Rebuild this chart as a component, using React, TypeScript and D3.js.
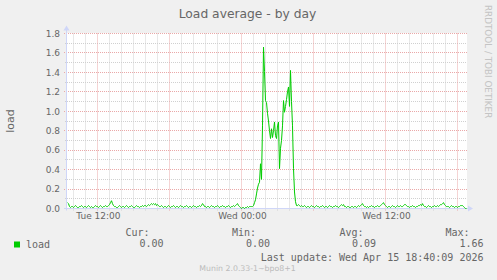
import React from "react";
import * as d3 from "d3";

// ---- data (5-minute samples, one per pixel) ----
const startTime = new Date(2026, 3, 14, 9, 28, 0); // Tue Apr 14 09:28
const stepMinutes = 5;
const loadValues: number[] = [
  0.06,0.05,0.02,0.01,0.02,0.02,0.01,0.02,0.03,0.02,0.01,0.01,0.02,0.02,0.03,0.02,0.01,0.02,0.02,0.01,
  0.02,0.03,0.02,0.01,0.02,0.01,0.01,0.02,0.03,0.02,0.02,0.01,0.02,0.03,0.02,0.01,0.02,0.02,0.03,0.02,
  0.02,0.03,0.04,0.06,0.08,0.05,0.03,0.02,0.02,0.01,0.01,0.02,0.03,0.02,0.01,0.02,0.02,0.01,0.02,0.03,
  0.02,0.01,0.02,0.02,0.03,0.02,0.01,0.01,0.02,0.03,0.02,0.02,0.01,0.02,0.02,0.03,0.02,0.03,0.03,0.02,
  0.03,0.04,0.03,0.04,0.05,0.04,0.05,0.04,0.05,0.03,0.04,0.03,0.02,0.02,0.03,0.02,0.01,0.02,0.02,0.01,
  0.02,0.03,0.02,0.01,0.02,0.02,0.03,0.02,0.01,0.02,0.02,0.01,0.02,0.03,0.02,0.02,0.01,0.02,0.02,0.03,
  0.02,0.01,0.02,0.02,0.01,0.02,0.03,0.02,0.02,0.01,0.02,0.02,0.03,0.02,0.03,0.05,0.04,0.02,0.02,0.01,
  0.02,0.02,0.01,0.02,0.03,0.02,0.02,0.01,0.02,0.02,0.03,0.02,0.01,0.02,0.02,0.03,0.02,0.02,0.01,0.02,
  0.02,0.03,0.02,0.01,0.02,0.02,0.03,0.02,0.03,0.04,0.05,0.03,0.02,0.01,0.00,0.01,0.01,0.00,0.01,0.01,
  0.02,0.01,0.02,0.02,0.02,0.02,0.03,0.06,0.09,0.15,0.21,0.25,0.27,0.46,0.30,0.85,1.66,1.41,1.11,1.09,
  0.98,0.90,0.80,0.72,0.82,0.73,0.80,0.89,0.75,0.72,0.85,0.89,0.41,0.62,0.70,0.85,1.11,0.99,1.05,1.12,
  1.20,1.25,1.05,1.42,1.10,0.85,0.41,0.17,0.07,0.03,0.03,0.04,0.03,0.02,0.03,0.02,0.02,0.03,0.02,0.01,
  0.02,0.02,0.01,0.02,0.03,0.02,0.02,0.01,0.02,0.03,0.02,0.02,0.01,0.02,0.02,0.03,0.02,0.01,0.02,0.02,
  0.01,0.02,0.03,0.02,0.02,0.01,0.02,0.02,0.03,0.02,0.02,0.01,0.02,0.03,0.04,0.03,0.04,0.02,0.02,0.01,
  0.02,0.02,0.01,0.01,0.02,0.02,0.01,0.02,0.02,0.01,0.02,0.03,0.02,0.03,0.04,0.05,0.03,0.02,0.02,0.01,
  0.02,0.01,0.02,0.02,0.03,0.02,0.02,0.01,0.02,0.02,0.03,0.02,0.02,0.03,0.04,0.05,0.06,0.04,0.03,0.02,
  0.01,0.02,0.02,0.01,0.02,0.03,0.02,0.02,0.01,0.02,0.03,0.02,0.02,0.03,0.02,0.02,0.03,0.04,0.04,0.03,
  0.02,0.02,0.01,0.02,0.02,0.03,0.02,0.02,0.01,0.02,0.02,0.03,0.03,0.04,0.03,0.05,0.03,0.02,0.02,0.01,
  0.02,0.03,0.02,0.02,0.01,0.02,0.02,0.03,0.02,0.02,0.03,0.02,0.03,0.04,0.04,0.05,0.06,0.04,0.03,0.02,
  0.02,0.02,0.01,0.02,0.03,0.02,0.02,0.01,0.02,0.02,0.01,0.02,0.02,0.03,0.03,0.03,0.02,0.01,0.00,0.00,
];
const yTickValues = [0, 0.2, 0.4, 0.6, 0.8, 1.0, 1.2, 1.4, 1.6, 1.8];
const yMinorValues = [0.1, 0.3, 0.5, 0.7, 0.9, 1.1, 1.3, 1.5, 1.7];
const seriesName = "load";
const legendHeaders = ["Cur:", "Min:", "Avg:", "Max:"];
const legendValues = ["0.00", "0.00", "0.09", "1.66"];
const titleText = "Load average - by day";
const yLabelText = "load";
const lastUpdateText = "Last update: Wed Apr 15 18:40:09 2026";
const watermarkText = "RRDTOOL / TOBI OETIKER";
const versionText = "Munin 2.0.33-1~bpo8+1";

export default function App() {
  const W = 497, H = 280;
  const left = 67, right = 467, top = 33.5, bottom = 208.5;
  const endTime = new Date(startTime.getTime() + 400 * stepMinutes * 60000);
  const x = d3.scaleTime().domain([startTime, endTime]).range([left, right]);
  const y = d3.scaleLinear().domain([0, 1.8]).range([bottom, top]);
  const data = loadValues.map((v, i) => ({ t: new Date(startTime.getTime() + i * stepMinutes * 60000), v }));
  const line = d3.line<{ t: Date; v: number }>().x(d => x(d.t) + 0.5).y(d => y(d.v));
  const hours = x.ticks(d3.timeHour.every(1)!);
  const snap = (v: number) => Math.round(v - 0.5) + 0.5;
  const fmt = d3.timeFormat("%a %H:%M");
  const sans = "'DejaVu Sans', sans-serif";
  const mono = "'DejaVu Sans Mono', monospace";
  const fontColor = "#666666";
  const minorGrid = "#d0d0d0";
  const majorGrid = "#eaa8a8";
  const axisColor = "#cfd6f8";
  const headerEnds = [149.5, 256, 363.5, 469.5];
  const valueEnds = [163.5, 270, 376, 483.5];

  return (
    <svg width={W} height={H} style={{ position: "absolute", left: 0, top: 0 }}>
      <rect x={0} y={0} width={W} height={H} fill="#f0f0f0" />
      <rect x={left} y={top - 0.5} width={right - left} height={bottom - top + 0.5} fill="#ffffff" />
      {yMinorValues.map(v => (
        <line key={"hm" + v} x1={left - 2} x2={right} y1={snap(y(v))} y2={snap(y(v))}
          stroke={minorGrid} strokeDasharray="1,1" strokeWidth={1} />
      ))}
      {hours.map(h => {
        const major = h.getHours() % 6 === 0;
        const xx = snap(x(h));
        return (
          <line key={"v" + h.getTime()} x1={xx} x2={xx} y1={top} y2={bottom + (major ? 3 : 2)}
            stroke={major ? majorGrid : minorGrid} strokeDasharray="1,1" strokeWidth={1} />
        );
      })}
      {yTickValues.map(v => (
        <line key={"hM" + v} x1={left - 3} x2={right} y1={snap(y(v))} y2={snap(y(v))}
          stroke={majorGrid} strokeDasharray="1,1" strokeWidth={1} />
      ))}
      <line x1={left - 3} x2={right + 2} y1={bottom} y2={bottom} stroke={axisColor} strokeWidth={1} />
      <path d={`M${right + 1},${bottom - 3}L${right + 6},${bottom}L${right + 1},${bottom + 3}Z`} fill={axisColor} />
      <line x1={left - 0.5} x2={left - 0.5} y1={bottom + 2} y2={top - 4} stroke={axisColor} strokeWidth={1} />
      <path d={`M${left - 3.5},${top - 3}L${left - 0.5},${top - 8}L${left + 2.5},${top - 3}Z`} fill={axisColor} />
      <path d={line(data) || ""} fill="none" stroke="#00cc00" strokeWidth={1} />
      {yTickValues.map(v => (
        <text key={"yl" + v} x={60} y={y(v) + 3.3} textAnchor="end" fontFamily={sans} fontSize={9} fill={fontColor}>
          {v.toFixed(1)}
        </text>
      ))}
      {hours.filter(h => h.getHours() % 12 === 0).map(h => (
        <text key={"xl" + h.getTime()} x={x(h) + 1} y={219.3} textAnchor="middle" fontFamily={sans} fontSize={9} fill={fontColor}>
          {fmt(h)}
        </text>
      ))}
      <text x={247.5} y={18.3} textAnchor="middle" fontFamily={sans} fontSize={12.3} fill={fontColor}>{titleText}</text>
      <text transform={`translate(13.5,${(top + bottom) / 2}) rotate(-90)`} textAnchor="middle"
        fontFamily={sans} fontSize={11} fill={fontColor}>{yLabelText}</text>
      <text transform="translate(485,5) rotate(90)" fontFamily={sans} fontSize={8.8} fill="#c4c4c4">{watermarkText}</text>
      <rect x={14} y={241.5} width={6} height={6} fill="#00cc00" />
      <text x={26} y={247.5} fontFamily={mono} fontSize={10} fill={fontColor}>{seriesName}</text>
      {legendHeaders.map((hd, i) => (
        <text key={"lh" + i} x={headerEnds[i]} y={236.3} textAnchor="end" fontFamily={mono} fontSize={10} fill={fontColor}>{hd}</text>
      ))}
      {legendValues.map((val, i) => (
        <text key={"lv" + i} x={valueEnds[i]} y={247.3} textAnchor="end" fontFamily={mono} fontSize={10} fill={fontColor}>{val}</text>
      ))}
      <text x={483.5} y={261.3} textAnchor="end" fontFamily={mono} fontSize={10} fill={fontColor}>{lastUpdateText}</text>
      <text x={247.5} y={271.3} textAnchor="middle" fontFamily={sans} fontSize={7.8} fill="#bbbbbb">{versionText}</text>
    </svg>
  );
}
